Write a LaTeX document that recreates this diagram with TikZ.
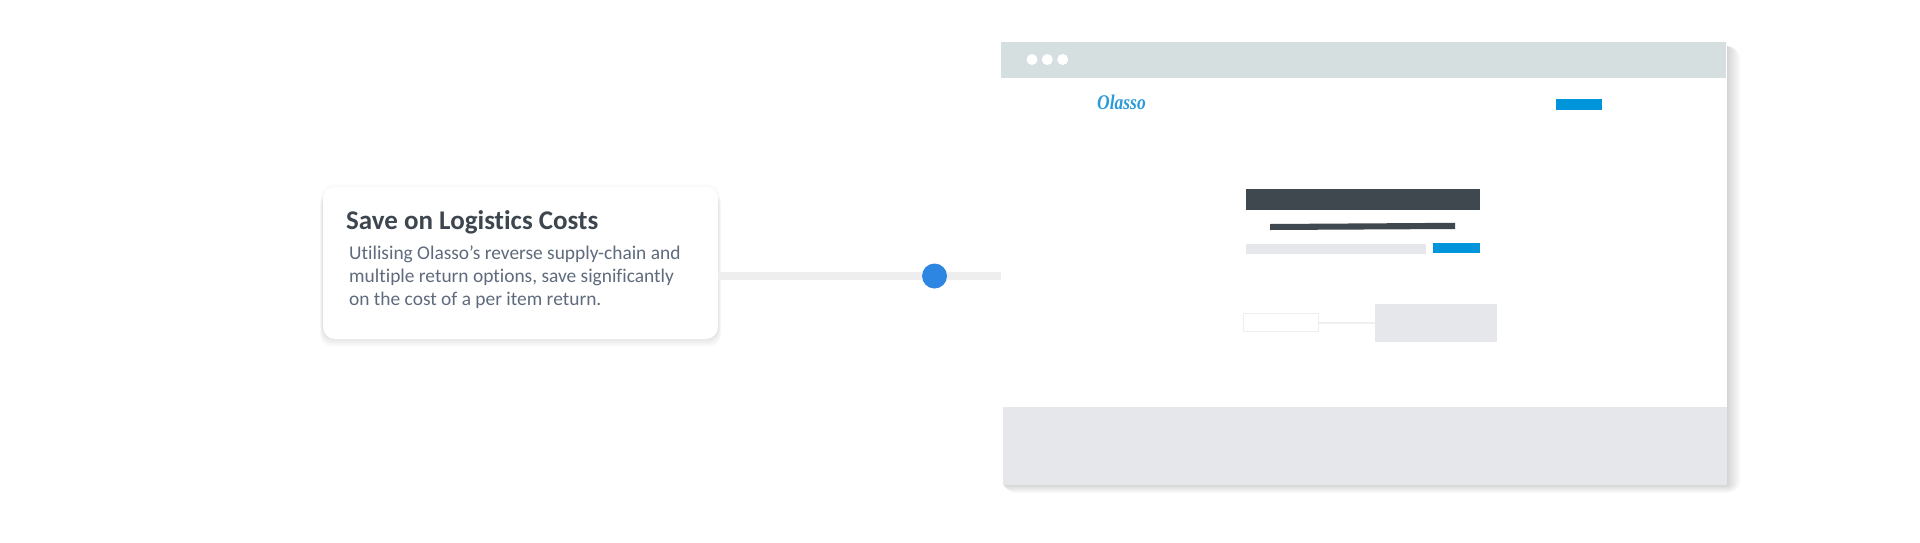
\documentclass[tikz,border=0pt]{standalone}
\usepackage{fontspec}
\setmainfont[Ligatures=NoCommon]{Carlito}
\newfontfamily\logofont{Liberation Serif}
\definecolor{titlecol}{HTML}{3D464F}
\definecolor{bodycol}{HTML}{5F6B7D}
\definecolor{barcol}{HTML}{D6DFE0}
\definecolor{brandblue}{HTML}{0095DA}
\definecolor{logoblue}{HTML}{2A9BD8}
\definecolor{dotblue}{HTML}{2E86E3}
\definecolor{paleg}{HTML}{E6E7EA}
\definecolor{trackcol}{HTML}{EEEEEE}
\definecolor{darkbar}{HTML}{3F484F}
\definecolor{outlinecol}{HTML}{EFEFF1}
\tikzset{
  block/.style={rectangle,anchor=north west,inner sep=0pt,outer sep=0pt,minimum width=#1},
  tall/.style={minimum height=#1},
  track/.style={draw=trackcol,line width=8pt},
  thinlink/.style={draw=outlinecol,line width=2pt},
  windowdot/.style={circle,fill=white,inner sep=0pt,minimum size=11pt},
}
\begin{document}
\begin{tikzpicture}[x=1pt,y=-1pt]
\useasboundingbox (0,0) rectangle (1920,542);
% window shadow
\foreach \g in {14,13,...,0}{
  \fill[black,opacity=0.0105,rounded corners=\g pt] (1003,46) rectangle (1727+\g,485+0.6*\g);
}
% card shadow
\foreach \g in {8,7,...,0}{
  \fill[black,opacity=0.012,rounded corners=12pt] (323-0.4*\g,192) rectangle (718+0.4*\g,339+\g);
}
\foreach \g in {3,2,1}{
  \fill[black,opacity=0.008,rounded corners=13pt] (323-\g,187-\g) rectangle (718+\g,339);
}
% window
\node[block=726pt,tall=443pt,fill=white] (win) at (1001,42) {};
\node[block=725pt,tall=36pt,fill=barcol] (bar) at (1001,42) {};
\node[block=724pt,tall=78pt,fill=paleg] (foot) at (1003,407) {};
\node[windowdot] (d1) at (1032,59.5) {};
\node[windowdot] (d2) at (1047.3,59.5) {};
\node[windowdot] (d3) at (1062.7,59.5) {};
\node[anchor=base west,inner sep=0pt,text=logoblue,xscale=0.92,yscale=1.1] (logo) at (1097,109)
  {\logofont\fontsize{19}{19}\selectfont\bfseries\itshape Olasso};
\node[block=46pt,tall=11pt,fill=brandblue] (cta) at (1556,99) {};
\node[block=234pt,tall=21pt,fill=darkbar] (hero) at (1246,189) {};
\fill[darkbar] (1270,224) -- (1455,222.8) -- (1455,229) -- (1270,230) -- cycle;
\node[block=180pt,tall=10pt,fill=paleg] (field) at (1246,244) {};
\node[block=47pt,tall=10pt,fill=brandblue] (send) at (1433,243) {};
\node[block=122pt,tall=38pt,fill=paleg] (panel) at (1375,304) {};
\node[block=75pt,tall=18pt,draw=outlinecol,line width=1.6pt,fill=white] (small) at (1243.5,313.5) {};
\draw[thinlink] (small.east) -- (panel.west |- small.east);
% card
\node[block=395pt,tall=152pt,fill=white,rounded corners=12pt] (card) at (323,187) {};
\node[anchor=base west,inner sep=0pt,text=titlecol] (title) at (346,229)
  {\fontsize{27}{27}\selectfont\bfseries Save on Logistics Costs};
\node[anchor=north west,inner sep=0pt,align=left,text=bodycol,
  font=\fontsize{19.4}{23}\selectfont] (body) at (349,245.5)
  {Utilising Olasso’s reverse supply-chain and\\
   multiple return options, save significantly\\
   on the cost of a per item return.};
% connector
\node[circle,fill=dotblue,inner sep=0pt,minimum size=25pt] (dot) at (934.5,276) {};
\draw[track] (card.east |- dot) -- (dot.west);
\draw[track] (dot.east) -- (win.west |- dot);
\end{tikzpicture}
\end{document}
